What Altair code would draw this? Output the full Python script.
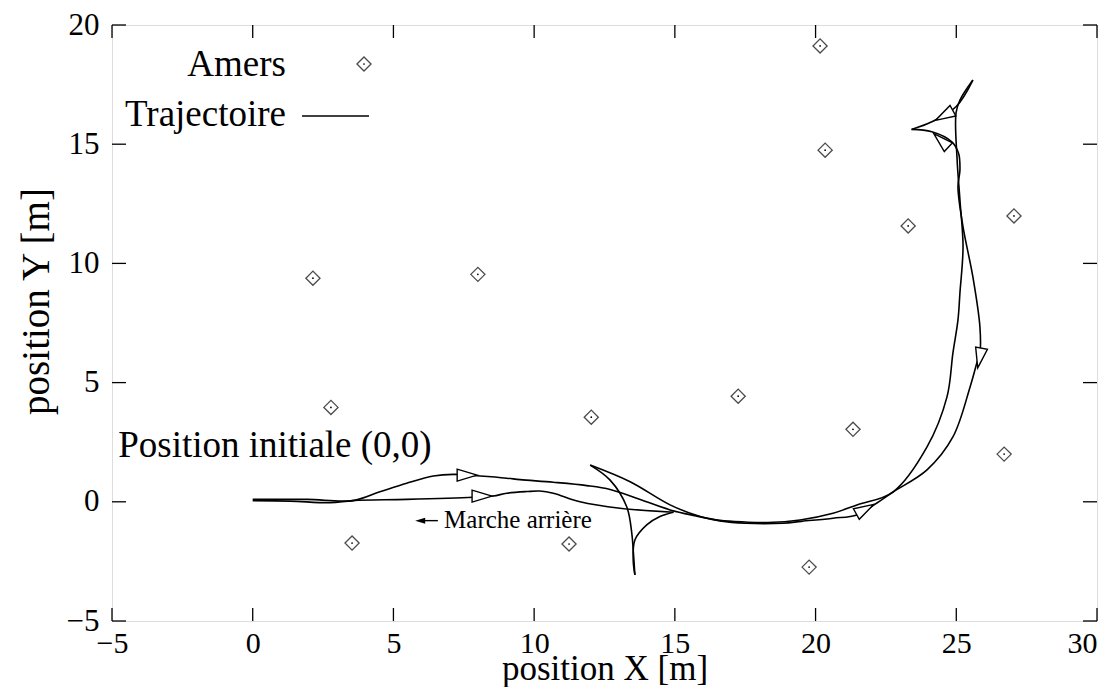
import altair as alt
import pandas as pd

FONT = "Liberation Serif"
W, H = 985, 596

x_ticks = [-5, 0, 5, 10, 15, 20, 25, 30]
y_ticks = [-5, 0, 5, 10, 15, 20]

# Landmarks (Amers)
amers_x = [20.16, 20.34, 23.29, 27.05, 2.14, 8.00, 2.78, 12.03, 17.25, 21.33, 26.70, 3.53, 11.24, 19.77]
amers_y = [19.12, 14.75, 11.57, 11.99, 9.38, 9.54, 3.96, 3.55, 4.43, 3.04, 2.00, -1.73, -1.77, -2.74]

# Trajectory, split at the cusps
seg1_x = [0.0, 1.93, 3.56, 4.52, 5.47, 6.42, 7.13, 8.08, 9.03, 9.50, 10.68, 11.87, 12.70, 13.64, 14.83,
          15.70, 16.60, 17.50, 18.30, 19.45, 20.62, 21.47, 22.75, 23.96, 24.67, 24.88, 25.06, 25.13,
          25.24, 25.13, 25.03, 24.99, 25.13, 25.59]
seg1_y = [0.10, 0.10, 0.05, 0.42, 0.78, 1.08, 1.15, 1.08, 0.99, 0.93, 0.82, 0.68, 0.52, 0.15, -0.34,
          -0.58, -0.78, -0.85, -0.87, -0.76, -0.48, -0.13, 0.41, 2.30, 4.40, 6.24, 7.63, 8.77,
          10.70, 12.66, 14.34, 16.31, 16.85, 17.69]
seg2_x = [25.59, 24.99, 24.13, 23.41]
seg2_y = [17.69, 16.57, 15.94, 15.62]
seg3_x = [23.41, 24.13, 24.84, 25.08, 25.13, 25.06, 25.24, 25.59, 25.84, 25.84, 25.73, 25.49, 24.88,
          23.96, 22.75, 22.18, 21.47, 20.62, 19.50, 18.85, 17.50, 16.60, 15.90, 14.83, 13.41, 11.99]
seg3_y = [15.62, 15.52, 15.10, 14.62, 13.92, 13.20, 11.53, 9.43, 7.33, 6.24, 5.82, 4.82, 2.72,
          1.34, 0.41, -0.05, -0.55, -0.69, -0.82, -0.90, -0.90, -0.80, -0.62, -0.13, 0.84, 1.54]
seg4_x = [11.99, 12.70, 13.29, 13.47, 13.52, 13.58]
seg4_y = [1.54, 0.91, -0.21, -1.32, -2.02, -3.07]
seg5_x = [13.58, 13.52, 13.58, 14.00, 14.47, 14.95]
seg5_y = [-3.07, -2.44, -1.60, -0.97, -0.62, -0.44]
seg6_x = [14.95, 13.05, 11.63, 10.68, 10.20, 9.74, 9.03, 8.54, 7.83, 5.47, 3.56, 2.75, 1.33, 0.0]
seg6_y = [-0.44, -0.27, 0.00, 0.36, 0.45, 0.43, 0.36, 0.24, 0.19, 0.10, 0.05, -0.04, 0.03, 0.05]

# Heading arrows along the trajectory
arr_x = [7.62, 8.15, 21.76, 25.83, 24.57, 24.46]
arr_y = [1.12, 0.24, -0.31, 6.03, 16.20, 15.16]
arr_angle = [0, 0, 331, 101, 151, 223]

rows = []
for sid, (xs_, ys_) in enumerate([(seg1_x, seg1_y), (seg2_x, seg2_y), (seg3_x, seg3_y),
                                  (seg4_x, seg4_y), (seg5_x, seg5_y), (seg6_x, seg6_y)]):
    for i, (a, b) in enumerate(zip(xs_, ys_)):
        rows.append({"seg": sid, "i": i, "x": a, "y": b})
traj = pd.DataFrame(rows)
amers = pd.DataFrame({"x": amers_x, "y": amers_y})
arrows = pd.DataFrame({"x": arr_x, "y": arr_y, "a": arr_angle})

xs = alt.Scale(domain=[-5, 30], nice=False, zero=False)
ys = alt.Scale(domain=[-5, 20], nice=False, zero=False)
xax = alt.Axis(values=x_ticks, ticks=False, domain=False, grid=False, labelFont=FONT, labelFontSize=30,
               labelColor="black", labelPadding=7, labelFlush=False,
               labelAlign={"condition": {"test": "datum.value == 30", "value": "right"}, "value": "center"},
               titleFont=FONT, titleFontSize=35, titleFontWeight="normal", titleColor="black",
               titleBaseline="alphabetic", titleY=58)
yax = alt.Axis(values=y_ticks, ticks=False, domain=False, grid=False, labelFont=FONT, labelFontSize=31,
               labelColor="black", labelPadding=13, labelFlush=False, titleFont=FONT, titleFontSize=39,
               titleFontWeight="normal", titleColor="black", titleAngle=270, titleAlign="center",
               titleBaseline="middle", titleX=-76, titleY=276)


def X(f):
    return alt.X(f, type="quantitative", scale=xs, axis=xax, title="position X [m]")


def Y(f):
    return alt.Y(f, type="quantitative", scale=ys, axis=yax, title="position Y [m]")


line = alt.Chart(traj).mark_line(color="black", strokeWidth=1.6, interpolate="catmull-rom").encode(
    x=X("x"), y=Y("y"), detail="seg:N", order="i:Q")

pts = alt.Chart(amers).mark_point(shape="diamond", size=200, color="black", strokeWidth=1.3,
                                  filled=False).encode(x=X("x"), y=Y("y"))
dots = alt.Chart(amers).mark_circle(size=3, color="black", opacity=1).encode(x=X("x"), y=Y("y"))

heads = alt.Chart(arrows).mark_point(shape="M1,0L-1,-0.6L-1,0.6Z", size=400, fill="white",
                                     stroke="black", strokeWidth=1.4, filled=True, opacity=1).encode(
    x=X("x"), y=Y("y"), angle=alt.Angle("a:Q", scale=None))

# Annotations
ann = pd.DataFrame({"x": [-4.78], "y": [2.34], "t": ["Position initiale (0,0)"]})
ann_t = alt.Chart(ann).mark_text(font=FONT, fontSize=37, align="left", baseline="middle",
                                 color="black").encode(x=X("x"), y=Y("y"), text="t:N")
ma = pd.DataFrame({"x": [6.80], "y": [-0.75], "t": ["Marche arrière"]})
ma_t = alt.Chart(ma).mark_text(font=FONT, fontSize=25, align="left", baseline="middle",
                               color="black").encode(x=X("x"), y=Y("y"), text="t:N")
ma_line = pd.DataFrame({"x": [5.95], "x2": [6.58], "y": [-0.79]})
ma_r = alt.Chart(ma_line).mark_rule(color="black", strokeWidth=1.4).encode(
    x=X("x"), x2="x2:Q", y=Y("y"))
ma_h = alt.Chart(ma_line).mark_point(shape="M-1,0L1,-0.6L1,0.6Z", size=100, filled=True,
                                     color="black", opacity=1).encode(x=X("x"), y=Y("y"))

# Inward ticks on all four sides
xt = pd.DataFrame({"v": x_ticks})
yt = pd.DataFrame({"v": y_ticks})
t_bot = alt.Chart(xt).mark_rule(color="black", strokeWidth=1.3).encode(
    x=X("v"), y=alt.value(H), y2=alt.value(H - 13))
t_top = alt.Chart(xt).mark_rule(color="black", strokeWidth=1.3).encode(
    x=X("v"), y=alt.value(0), y2=alt.value(13))
t_left = alt.Chart(yt).mark_rule(color="black", strokeWidth=1.3).encode(
    y=Y("v"), x=alt.value(0), x2=alt.value(14))
t_right = alt.Chart(yt).mark_rule(color="black", strokeWidth=1.3).encode(
    y=Y("v"), x=alt.value(W), x2=alt.value(W - 14))

# Legend (key box inside the plot, top-left)
leg = pd.DataFrame({"t": ["Amers", "Trajectoire"], "py": [40, 90]})
leg_t = alt.Chart(leg).mark_text(font=FONT, fontSize=37, align="right", baseline="middle",
                                 color="black").encode(x=alt.value(174), y=alt.Y("py:Q", scale=None),
                                                       text="t:N")
leg_p = alt.Chart(leg.iloc[:1]).mark_point(shape="diamond", size=200, color="black", strokeWidth=1.3).encode(
    x=alt.value(252), y=alt.value(39))
leg_d = alt.Chart(leg.iloc[:1]).mark_circle(size=3, color="black", opacity=1).encode(
    x=alt.value(252), y=alt.value(39))
leg_l = alt.Chart(leg.iloc[1:]).mark_rule(color="black", strokeWidth=1.5).encode(
    x=alt.value(190), x2=alt.value(257), y=alt.value(91))

chart = alt.layer(
    line, heads, pts, dots, ann_t, ma_t, ma_r, ma_h, t_bot, t_top, t_left, t_right,
    leg_t, leg_p, leg_d, leg_l
).properties(
    width=W, height=H,
    autosize=alt.AutoSizeParams(type="none"),
    padding={"left": 104, "top": 17, "right": 7, "bottom": 66},
).configure_view(stroke="black", strokeWidth=2).configure(background="white")

chart.save("out.html", embed_options={"renderer": "svg", "actions": False})
